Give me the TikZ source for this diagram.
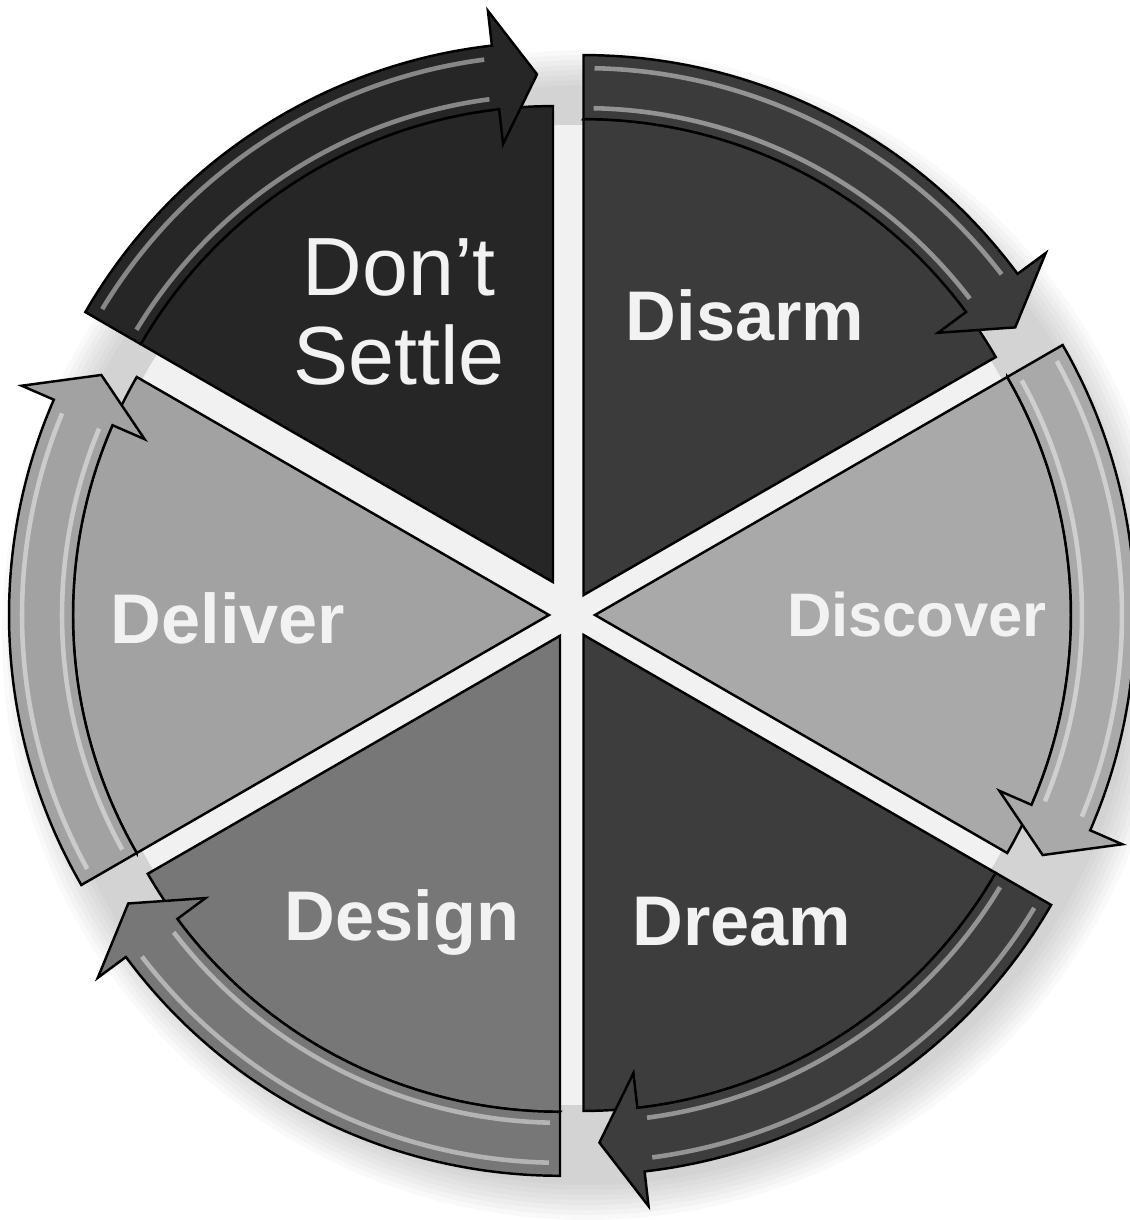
\documentclass[tikz,border=0pt]{standalone}
\usepackage{fontspec}
\setmainfont{Liberation Sans}
\usepackage{xcolor}
\usetikzlibrary{calc}
\definecolor{dontcol}{HTML}{262626}
\definecolor{disarmcol}{HTML}{3B3B3B}
\definecolor{discovercol}{HTML}{A9A9A9}
\definecolor{dreamcol}{HTML}{3D3D3D}
\definecolor{designcol}{HTML}{777777}
\definecolor{delivercol}{HTML}{A2A2A2}
\tikzset{
  % Wheel styles
  sector/.style={draw=black, line width=0.7pt, line join=miter, fill=#1},
  shine/.style={draw=white, opacity=0.45, line width=1.3pt},
  hub/.style={fill=gray!11},
  label/.style={text=white!95!black, align=center, font=\bfseries\fontsize{20}{24}\selectfont},
}

\begin{document}
\begin{tikzpicture}
    \useasboundingbox (-5.72,-6.05) rectangle (5.58,6.15);

    % Soft shadow
    \foreach \k in {1,...,8}
      \fill[black, opacity=0.025] (0.15,-0.2) circle ({5.45+0.05*\k});

    % Light gaps
    \fill[hub] (0,0) circle (4.9);

    % Sectors: start angle / colour / shift
    \foreach \s/\col/\d in {150/dontcol/0.38, 90/disarmcol/0.23, 30/discovercol/0.23,
                            -30/dreamcol/0.23, -90/designcol/0.24, -150/delivercol/0.23} {
      \pgfmathsetmacro{\e}{\s-60}
      \pgfmathsetmacro{\b}{\s-30}
      \pgfmathsetmacro{\h}{\e+6.5}
      \pgfmathsetmacro{\t}{\e+1.8}
      \pgfmathsetmacro{\sa}{\s-1.2}
      \pgfmathsetmacro{\ha}{\h+1}
      \begin{scope}[shift={(\b:\d)}]
        \path[sector=\col] (0,0) -- (\s:4.76) arc[start angle=\s, end angle=\e, radius=4.76] -- cycle;
        \path[sector=\col] (\s:4.76) -- (\s:5.40)
          arc[start angle=\s, end angle=\h, radius=5.40]
          -- (\h:5.75) -- (\t:5.08) -- (\h:4.41) -- (\h:4.76)
          arc[start angle=\h, end angle=\s, radius=4.76] -- cycle;
        \draw[shine] (\sa:4.87) arc[start angle=\sa, end angle=\ha, radius=4.87];
        \draw[shine] (\sa:5.27) arc[start angle=\sa, end angle=\ha, radius=5.27];
      \end{scope}
    }

    % Labels
    \node[label, font=\fontsize{23.5}{25.6}\selectfont] (dontsettle) at (-1.73,3.03) {Don't\\Settle};
    \node[label] (disarm) at (1.73,3.00) {Disarm};
    \node[label, font=\bfseries\fontsize{17.5}{21}\selectfont] (discover) at (3.45,0.0) {Discover};
    \node[label] (dream) at (1.70,-3.07) {Dream};
    \node[label] (design) at (-1.70,-3.07) {Design};
    \node[label] (deliver) at (-3.44,-0.03) {Deliver};
\end{tikzpicture}
\end{document}
